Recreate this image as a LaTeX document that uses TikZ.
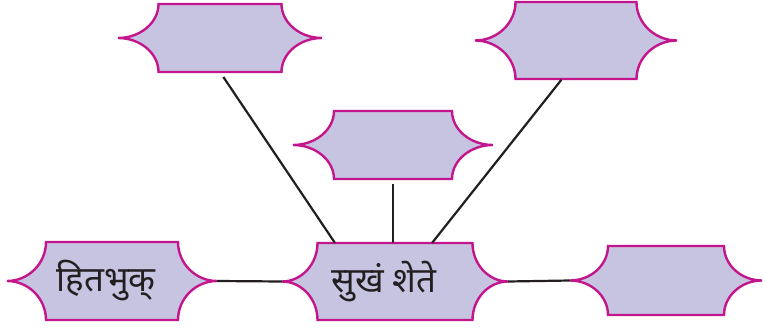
\documentclass[tikz,border=0pt]{standalone}
\usepackage{fontspec}
\newfontfamily\devfont[Script=Devanagari]{Noto Sans}
\usepackage{xcolor}
\usepackage{tikz}
\usetikzlibrary{calc,backgrounds}
\definecolor{magx}{HTML}{C4168C}
\definecolor{lavx}{HTML}{C6C4E1}
\definecolor{inkx}{HTML}{231F20}
\tikzset{
  link/.style={inkx,line width=2.2pt},
  plaque/.style={outer sep=0pt,inner sep=0pt,font=\devfont\fontsize{35}{42}\selectfont,text=inkx},
  rim/.style={draw=magx,fill=lavx,line width=2.4pt}
}

\begin{document}
\begin{tikzpicture}[x=1pt,y=1pt]
\useasboundingbox (0,0) rectangle (763,330);
\node[plaque,minimum width=210pt,minimum height=78pt] (hb) at (112,49) {हितभुक्\hspace*{12pt}};
\node[plaque,minimum width=204pt,minimum height=68pt] (tl) at (220,292) {};
\node[plaque,minimum width=200pt,minimum height=68pt] (md) at (393,185) {};
\node[plaque,minimum width=202pt,minimum height=77pt] (tr) at (576,289.5) {};
\node[plaque,minimum width=226pt,minimum height=77pt] (ss) at (395,48.5) {सुखं शेते\hspace*{22pt}};
\node[plaque,minimum width=192pt,minimum height=69pt] (rt) at (666,49.5) {};
\begin{pgfonlayer}{background}
\foreach \n/\d in {hb/39,tl/40.5,md/41,tr/40.5,ss/35.5,rt/38}{
  \filldraw[rim] (\n.west) .. controls ($(\n.west)+(0.55*\d,0)$) and ($(\n.north west)!0.55!(\n.west)+(\d,0)$) .. ($(\n.north west)+(\d,0)$)
    -- ($(\n.north east)+(-\d,0)$)
    .. controls ($(\n.north east)!0.55!(\n.east)+(-\d,0)$) and ($(\n.east)+(-0.55*\d,0)$) .. (\n.east)
    .. controls ($(\n.east)+(-0.55*\d,0)$) and ($(\n.south east)!0.55!(\n.east)+(-\d,0)$) .. ($(\n.south east)+(-\d,0)$)
    -- ($(\n.south west)+(\d,0)$)
    .. controls ($(\n.south west)!0.55!(\n.west)+(\d,0)$) and ($(\n.west)+(0.55*\d,0)$) .. cycle;
}
\end{pgfonlayer}
% connectors
\draw[link] (hb.east) -- (ss.west);
\draw[link] (ss.east) -- (rt.west);
\draw[link,shorten <=6pt] (tl.south) -- ($(ss.north)+(-60,0)$);
\draw[link,shorten <=5pt] (md.south) -- (md.south |- ss.north);
\draw[link,shorten <=1pt] ($(tr.south)+(-14,0)$) -- ($(ss.north)+(37,0)$);
\end{tikzpicture}
\end{document}
